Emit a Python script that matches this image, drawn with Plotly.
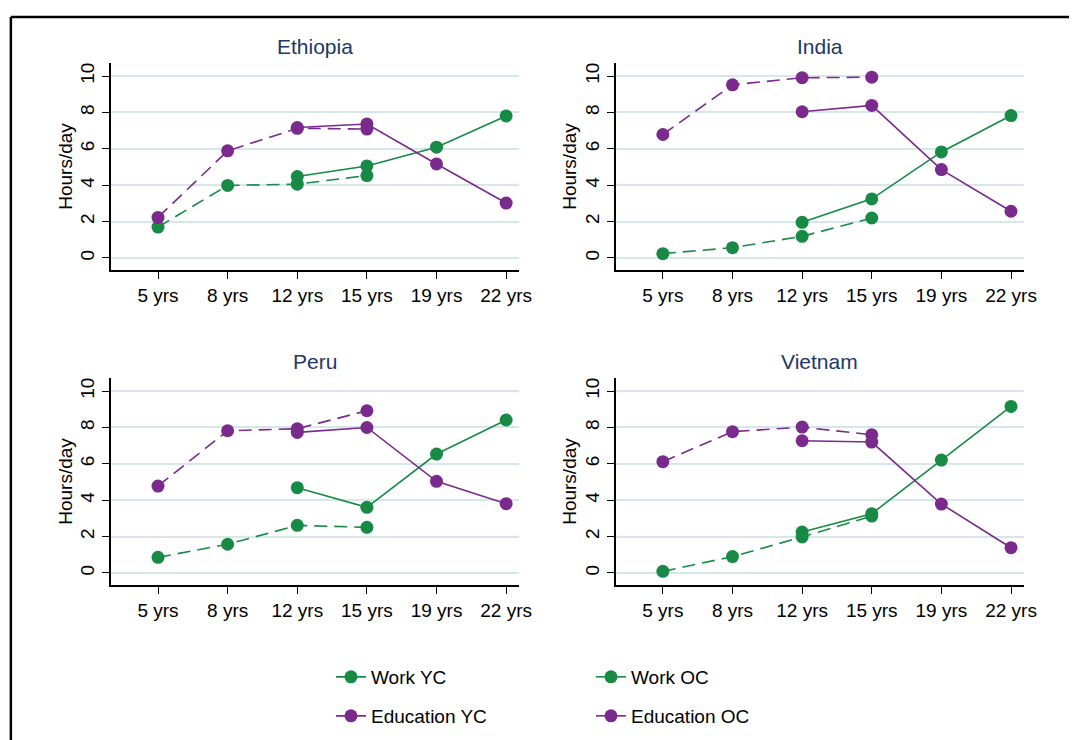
import plotly.graph_objects as go

ages = ["5 yrs", "8 yrs", "12 yrs", "15 yrs", "19 yrs", "22 yrs"]
countries = ["Ethiopia", "India", "Peru", "Vietnam"]
y_ticks = [0, 2, 4, 6, 8, 10]

# Hours/day per country, per age (None = not observed)
work_yc = {
    "Ethiopia": [1.70, 3.99, 4.06, 4.53, None, None],
    "India":    [0.24, 0.57, 1.19, 2.20, None, None],
    "Peru":     [0.86, 1.58, 2.62, 2.51, None, None],
    "Vietnam":  [0.09, 0.90, 1.98, 3.13, None, None],
}
work_oc = {
    "Ethiopia": [None, None, 4.48, 5.06, 6.09, 7.81],
    "India":    [None, None, 1.96, 3.25, 5.83, 7.83],
    "Peru":     [None, None, 4.69, 3.61, 6.54, 8.41],
    "Vietnam":  [None, None, 2.25, 3.26, 6.21, 9.16],
}
edu_yc = {
    "Ethiopia": [2.23, 5.89, 7.13, 7.09, None, None],
    "India":    [6.79, 9.52, 9.91, 9.94, None, None],
    "Peru":     [4.78, 7.82, 7.93, 8.92, None, None],
    "Vietnam":  [6.12, 7.77, 8.02, 7.60, None, None],
}
edu_oc = {
    "Ethiopia": [None, None, 7.17, 7.37, 5.17, 3.02],
    "India":    [None, None, 8.04, 8.39, 4.86, 2.57],
    "Peru":     [None, None, 7.73, 8.00, 5.04, 3.81],
    "Vietnam":  [None, None, 7.27, 7.20, 3.79, 1.39],
}

GREEN = "#178a45"
PURPLE = "#7a2a8c"
FONT = "Liberation Sans, Arial, sans-serif"
W, H = 1082, 740
DASH = "13px,7px"

series = [
    ("Work YC", work_yc, GREEN, DASH, "legend"),
    ("Work OC", work_oc, GREEN, "solid", "legend"),
    ("Education YC", edu_yc, PURPLE, DASH, "legend2"),
    ("Education OC", edu_oc, PURPLE, "solid", "legend2"),
]

# panel pixel boxes (left, right, top, bottom)
boxes = [(112, 525, 63, 270), (623, 1036, 63, 270),
         (112, 525, 378, 585), (623, 1036, 378, 585)]

fig = go.Figure()
for i, c in enumerate(countries):
    ax = "" if i == 0 else str(i + 1)
    for name, data, col, dash, lg in series:
        fig.add_trace(go.Scatter(
            x=ages, y=data[c], name=name, mode="lines+markers",
            line=dict(color=col, width=1.6, dash=dash),
            marker=dict(color=col, size=13),
            connectgaps=False, showlegend=(i == 0), legend=lg,
            xaxis="x" + ax, yaxis="y" + ax,
        ))
    l, r, t, b = boxes[i]
    fig.layout["xaxis" + ax] = dict(
        domain=[l / W, r / W], anchor="y" + ax, type="category",
        categoryorder="array", categoryarray=ages,
        range=[-0.68, 5.18], showline=True, linecolor="black", linewidth=1.6,
        ticks="outside", ticklen=7, tickwidth=1.4, tickcolor="black",
        showgrid=False, zeroline=False,
        tickfont=dict(family=FONT, size=19, color="black"),
    )
    fig.layout["yaxis" + ax] = dict(
        domain=[1 - b / H, 1 - t / H], anchor="x" + ax,
        range=[-0.66, 10.72], tickvals=y_ticks, tickangle=-90,
        showline=True, linecolor="black", linewidth=1.6,
        ticks="outside", ticklen=7, tickwidth=1.4, tickcolor="black",
        showgrid=True, gridcolor="#d6e7ec", gridwidth=1.6, zeroline=False,
        tickfont=dict(family=FONT, size=19, color="black"),
        title=dict(text="Hours/day", standoff=0,
                   font=dict(family=FONT, size=19, color="black")),
    )
    fig.add_annotation(
        text=c, xref="paper", yref="paper", x=(l + r) / 2 / W,
        y=1 - (t - 17) / H, xanchor="center", yanchor="middle",
        showarrow=False, font=dict(family=FONT, size=21, color="#1c3768"),
    )

# outer frame (top and left edges)
fig.add_shape(type="line", xref="paper", yref="paper",
              x0=11 / W, x1=1, y0=1 - 17 / H, y1=1 - 17 / H,
              line=dict(color="black", width=2.5))
fig.add_shape(type="line", xref="paper", yref="paper",
              x0=11 / W, x1=11 / W, y0=1 - 17 / H, y1=0,
              line=dict(color="black", width=2.5))

leg_common = dict(orientation="h", xanchor="left", yanchor="middle",
                  entrywidth=215, entrywidthmode="pixels",
                  font=dict(family=FONT, size=19, color="black"),
                  bgcolor="rgba(0,0,0,0)", traceorder="normal")
fig.update_layout(
    width=W, height=H, margin=dict(l=0, r=0, t=0, b=0),
    paper_bgcolor="white", plot_bgcolor="white",
    legend=dict(x=335 / W, y=1 - 677 / H, **leg_common),
    legend2=dict(x=335 / W, y=1 - 716 / H, **leg_common),
)

fig.write_html("out.html", config={"displayModeBar": False})

# remove the browser's default page margin so the figure sits at (0, 0)
with open("out.html", "r", encoding="utf-8") as f:
    html = f.read()
html = html.replace("<head>", "<head><style>html,body{margin:0;padding:0;overflow:hidden;}</style>", 1)
with open("out.html", "w", encoding="utf-8") as f:
    f.write(html)
